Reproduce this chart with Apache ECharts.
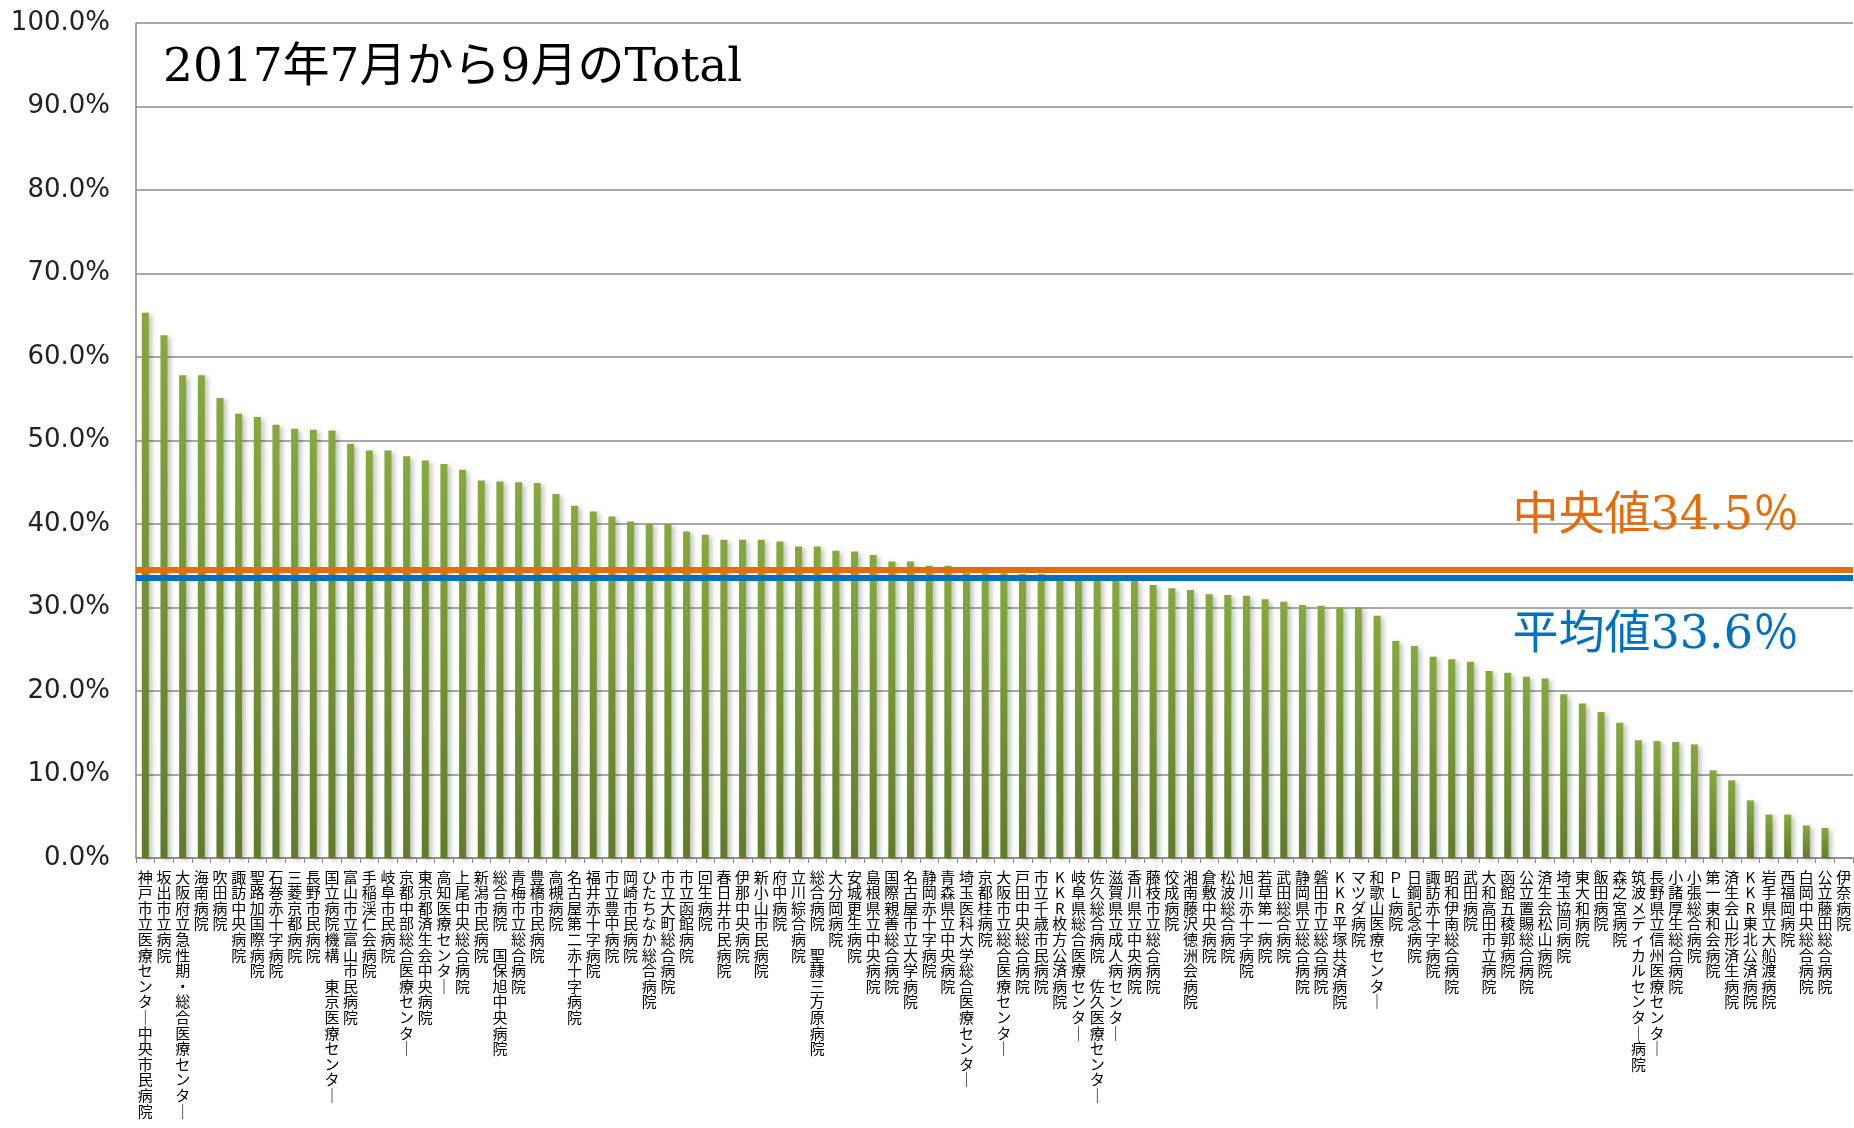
<!DOCTYPE html>
<html>
<head>
<meta charset="utf-8">
<script src="https://cdn.jsdelivr.net/npm/echarts@6/dist/echarts.min.js"></script>
<style>
html,body{margin:0;padding:0;background:#fff;}
#c{width:1854px;height:1128px;}
</style>
</head>
<body>
<div id="c"></div>
<script>
const titleText = '2017年7月から9月のTotal';
const categories = [
'神戸市立医療センター中央市民病院','坂出市立病院','大阪府立急性期・総合医療センター','海南病院','吹田病院',
'諏訪中央病院','聖路加国際病院','石巻赤十字病院','三菱京都病院','長野市民病院',
'国立病院機構 東京医療センター','富山市立富山市民病院','手稲渓仁会病院','岐阜市民病院','京都中部総合医療センター',
'東京都済生会中央病院','高知医療センター','上尾中央総合病院','新潟市民病院','総合病院 国保旭中央病院',
'青梅市立総合病院','豊橋市民病院','高槻病院','名古屋第二赤十字病院','福井赤十字病院',
'市立豊中病院','岡崎市民病院','ひたちなか総合病院','市立大町総合病院','市立函館病院',
'回生病院','春日井市民病院','伊那中央病院','新小山市民病院','府中病院',
'立川綜合病院','総合病院 聖隷三方原病院','大分岡病院','安城更生病院','島根県立中央病院',
'国際親善総合病院','名古屋市立大学病院','静岡赤十字病院','青森県立中央病院','埼玉医科大学総合医療センター',
'京都桂病院','大阪市立総合医療センター','戸田中央総合病院','市立千歳市民病院','KKR枚方公済病院',
'岐阜県総合医療センター','佐久総合病院 佐久医療センター','滋賀県立成人病センター','香川県立中央病院','藤枝市立総合病院',
'佼成病院','湘南藤沢徳洲会病院','倉敷中央病院','松波総合病院','旭川赤十字病院',
'若草第一病院','武田総合病院','静岡県立総合病院','磐田市立総合病院','KKR平塚共済病院',
'マツダ病院','和歌山医療センター','ＰＬ病院','日鋼記念病院','諏訪赤十字病院',
'昭和伊南総合病院','武田病院','大和高田市立病院','函館五稜郭病院','公立置賜総合病院',
'済生会松山病院','埼玉協同病院','東大和病院','飯田病院','森之宮病院',
'筑波メディカルセンター病院','長野県立信州医療センター','小諸厚生総合病院','小張総合病院','第一東和会病院',
'済生会山形済生病院','KKR東北公済病院','岩手県立大船渡病院','西福岡病院','白岡中央総合病院',
'公立藤田総合病院','伊奈病院'
];
const values = [
65.3, 62.6, 57.8, 57.8, 55.1, 53.2, 52.8, 51.9, 51.4, 51.3,
51.2, 49.6, 48.8, 48.8, 48.1, 47.6, 47.2, 46.5, 45.2, 45.1,
45.0, 44.9, 43.6, 42.2, 41.5, 40.9, 40.3, 40.0, 40.0, 39.1,
38.7, 38.1, 38.1, 38.1, 37.9, 37.3, 37.3, 36.8, 36.7, 36.3,
35.5, 35.5, 35.0, 35.0, 34.1, 34.1, 34.1, 34.0, 34.0, 33.6,
33.5, 33.5, 33.4, 33.2, 32.7, 32.3, 32.1, 31.6, 31.5, 31.4,
31.0, 30.7, 30.3, 30.2, 30.0, 30.0, 29.0, 26.0, 25.4, 24.1,
23.8, 23.5, 22.4, 22.2, 21.7, 21.5, 19.6, 18.5, 17.5, 16.2,
14.1, 14.0, 13.9, 13.6, 10.5, 9.3, 6.9, 5.2, 5.2, 3.9,
3.6, 0
];
const medianValue = 34.5;
const meanValue = 33.6;
const medianLabel = '中央値';
const meanLabel = '平均値';
const yMin = 0, yMax = 100, yInterval = 10;

const chart = echarts.init(document.getElementById('c'), null, {renderer:'canvas'});
const vert = s => s.split('').map(c => c === 'ー' ? '｜' : c).join('\n');
const numFont = "'DejaVu Serif','Noto Sans CJK JP',serif";

chart.setOption({
  animation:false,
  backgroundColor:'#ffffff',
  grid:{left:136, right:1, top:23, bottom:270, outerBoundsMode:'none'},
  graphic:[{
    type:'text', left:163, top:45,
    style:{text:titleText, font:"47px " + numFont, fill:'#000'}
  }],
  xAxis:{
    type:'category', data:categories,
    axisLine:{show:true, lineStyle:{color:'#8a8a8a', width:1.5}},
    axisTick:{show:true, length:5, lineStyle:{color:'#8a8a8a'}},
    axisLabel:{interval:0, margin:11, fontSize:15, lineHeight:15.6, color:'#000',
      fontFamily:"'Noto Sans CJK JP',sans-serif", formatter:vert}
  },
  yAxis:{
    type:'value', min:yMin, max:yMax, interval:yInterval,
    axisLine:{show:true, lineStyle:{color:'#8a8a8a', width:1.5}},
    axisTick:{show:false},
    splitLine:{show:true, lineStyle:{color:'#8c8c8c', width:1.5}},
    axisLabel:{margin:26, fontSize:26, color:'#222', fontFamily:"'DejaVu Sans',sans-serif",
      formatter:v => v.toFixed(1) + '%'}
  },
  series:[{
    type:'bar', data:values, barWidth:7,
    itemStyle:{
      color:new echarts.graphic.LinearGradient(0,0,0,1,[{offset:0,color:'#85a93c'},{offset:1,color:'#5f7d29'}]),
      shadowColor:'rgba(0,0,0,0.25)', shadowBlur:5, shadowOffsetX:3, shadowOffsetY:2
    },
    markLine:{
      silent:true, symbol:'none',
      data:[
        {yAxis:medianValue, lineStyle:{color:'#e46c0a', width:6, type:'solid'},
         label:{show:true, position:'insideEndTop', distance:[54,30], color:'#e46c0a',
           fontSize:46, fontFamily:numFont, formatter:() => medianLabel + medianValue.toFixed(1) + '％'}},
        {yAxis:meanValue, lineStyle:{color:'#0070c0', width:6, type:'solid'},
         label:{show:true, position:'insideEndBottom', distance:[54,36], color:'#0070c0',
           fontSize:46, fontFamily:numFont, formatter:() => meanLabel + meanValue.toFixed(1) + '％'}}
      ]
    }
  }]
});
</script>
</body>
</html>
